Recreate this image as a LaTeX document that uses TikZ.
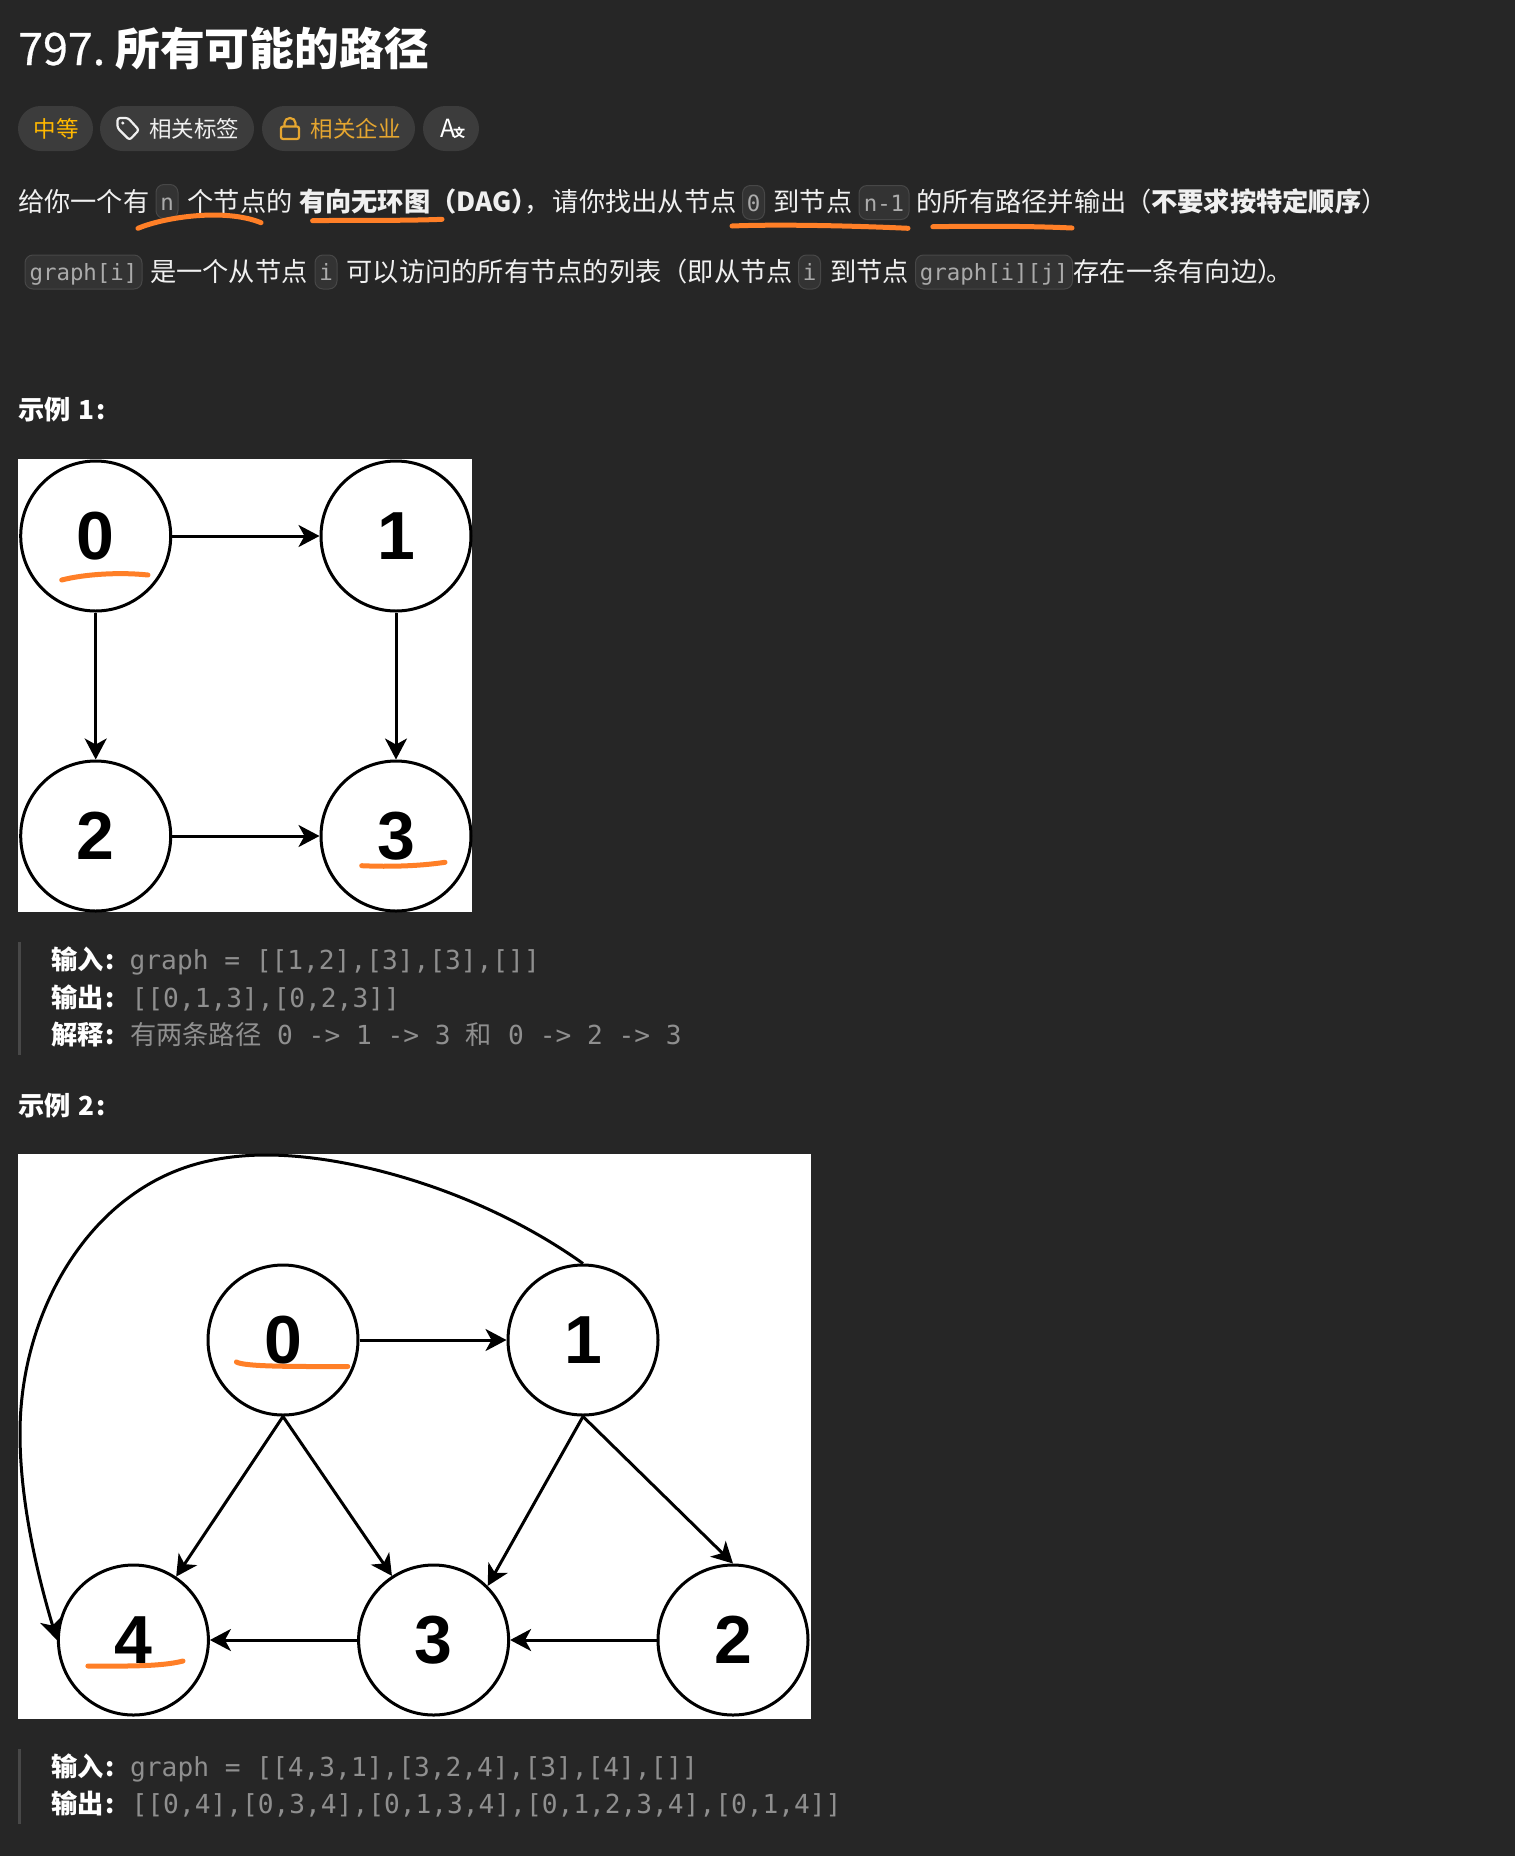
\documentclass[tikz,border=0pt]{standalone}
\usepackage{fontspec}
\setmainfont{Noto Sans CJK SC}
\setmonofont{DejaVu Sans Mono}
\newfontfamily\digitfont{Liberation Sans}
\newfontfamily\titlenum[FakeBold=0.6]{Noto Sans CJK SC}
\usetikzlibrary{positioning, arrows.meta}

\definecolor{pagebg}{HTML}{262626}
\definecolor{pillbg}{HTML}{3C3C3C}
\definecolor{chipbg}{HTML}{333333}
\definecolor{chipline}{HTML}{474747}
\definecolor{chiptext}{HTML}{ABABAB}
\definecolor{bodytext}{HTML}{F0F0F0}
\definecolor{quotetext}{HTML}{8F8F8F}
\definecolor{quotebar}{HTML}{484848}
\definecolor{gold}{HTML}{E5A630}
\definecolor{amber}{HTML}{FFB800}
\definecolor{marker}{HTML}{FF7F27}

\newcommand{\px}[1]{\fontsize{#1}{#1}\selectfont}

\begin{document}
\begin{tikzpicture}[
    x=1pt, y=-1pt,
    >={Stealth[length=21pt,width=22pt,inset=6pt]},
    txt/.style={anchor=base west, inner sep=0pt, text=bodytext, font=\px{26.25}},
    head/.style={txt, text=white, font=\px{26.25}\bfseries},
    chip/.style={rectangle, rounded corners=8pt, draw=chipline, line width=1pt, fill=chipbg,
        text=chiptext, font=\ttfamily\px{22.4}, inner sep=0pt, minimum height=34pt,
        text height=20pt, text depth=3pt},
    pill/.style={rectangle, rounded corners=22.5pt, fill=pillbg, inner sep=0pt, minimum height=45pt},
    pilltxt/.style={anchor=base west, inner sep=0pt, font=\px{22.5}},
    quote/.style={txt, text=quotetext},
    quotecode/.style={quote, font=\ttfamily\px{26.2}},
    vert/.style={circle, draw=black, line width=3pt, fill=white, minimum size=150pt, inner sep=0pt,
        text=black, font=\digitfont\bfseries\px{68}},
    edge/.style={draw=black, line width=3pt, ->},
    scribble/.style={draw=marker, line width=5pt, line cap=round}
]

    % --- Page ---
    \fill[pagebg] (0,0) rectangle (1515,1856);
    \useasboundingbox (0,0) rectangle (1515,1856);

    % --- Title and tags ---
    \node[txt, text=white, font=\titlenum\px{44.8}] (ttlNum) at (18,65) {797.};
    \node[txt, text=white, font=\px{44.8}\bfseries] (ttlName) at (115,65) {所有可能的路径};

    \node[pill, minimum width=75pt]  (pillLevel) at (55.5,128.5) {};
    \node[pill, minimum width=154pt] (pillTags)  at (177,128.5) {};
    \node[pill, minimum width=153pt] (pillFirms) at (338.5,128.5) {};
    \node[pill, minimum width=56pt]  (pillLang)  at (451,128.5) {};

    \node[pilltxt, text=amber] (lblLevel) at (33.5,137) {中等};
    \node[pilltxt, text=bodytext] (lblTags) at (149,137) {相关标签};
    \node[pilltxt, text=gold] (lblFirms) at (310.7,137) {相关企业};
    \node[anchor=base west, inner sep=0pt, text=white, font=\px{25}] (lblLangA) at (440,137) {A};
    \node[anchor=base west, inner sep=0pt, text=white, font=\px{12}\bfseries] (lblLangB) at (453,137) {文};

    % tag icon
    \draw[bodytext, line width=2.2pt, rounded corners=2.5pt, line join=round]
        (117.5,118) -- (128,118) -- (139,130) -- (129.5,140) -- (117.5,128) -- cycle;
    \fill[bodytext] (122.8,123) circle (1.7);
    % lock icon
    \draw[gold, line width=2.2pt, rounded corners=2pt] (281,126.5) rectangle (299,139);
    \draw[gold, line width=2.2pt] (284.5,126.5) -- (284.5,123) arc (180:360:5.5 and 5) -- (295.5,126.5);

    % --- Paragraph 1 ---
    \node[txt] (p1a) at (18,211.5) {给你一个有};
    \node[chip, minimum width=22pt] (cN) at (167,201.5) {n};
    \node[txt] (p1b) at (187.5,211.5) {个节点的};
    \node[txt, font=\px{26.25}\bfseries] (p1c) at (299,211.5) {有向无环图};
    \node[txt, font=\px{26.25}\bfseries] (p1d) at (430,211.5) {（DAG）};
    \node[txt] (p1dc) at (524,211.5) {，};
    \node[txt] (p1dd) at (552.6,211.5) {请你找出从节点};
    \node[chip, minimum width=22pt] (cZero) at (753.5,202.5) {0};
    \node[txt] (p1e) at (773.5,211.5) {到节点};
    \node[chip, minimum width=50pt] (cLast) at (884,202.5) {n-1};
    \node[txt] (p1f) at (916.5,211.5) {的所有路径并输出};
    \node[txt] (p1g) at (1125,211.5) {（{\bfseries 不要求按特定顺序}）};

    % --- Paragraph 2 ---
    \node[chip, minimum width=117pt] (cGraph) at (83.5,272) {graph[i]};
    \node[txt] (p2a) at (150,281) {是一个从节点};
    \node[chip, minimum width=22pt] (cI) at (326,272) {i};
    \node[txt] (p2b) at (346.5,281) {可以访问的所有节点的列表（即从节点};
    \node[chip, minimum width=22pt] (cIb) at (809.5,272) {i};
    \node[txt] (p2c) at (830,281) {到节点};
    \node[chip, minimum width=157pt] (cGraphJ) at (994,272) {graph[i][j]};
    \node[txt] (p2d) at (1073.5,281) {存在一条有向边）};
    \node[txt] (p2e) at (1266,281) {。};

    % --- Example 1 ---
    \node[head] (ex1) at (18,419) {示例\kern2pt{} 1\kern2pt:};
    \fill[white] (18,459) rectangle (472,912);

    \node[vert] (a0) at (95.7,536) {0};
    \node[vert] (a1) at (396,536) {1};
    \node[vert] (a2) at (95.7,836) {2};
    \node[vert] (a3) at (396,836) {3};

    \draw[edge] (a0) -- (a1);
    \draw[edge] (a0) -- (a2);
    \draw[edge] (a1) -- (a3);
    \draw[edge] (a2) -- (a3);

    \draw[scribble] (61.7,580) .. controls (85,574) and (120,572) .. (148,575);
    \draw[scribble] (361.7,865.7) .. controls (390,867) and (420,866) .. (445,862.3);

    \fill[quotebar] (18.4,942) rectangle (21,1055);
    \node[head] (in1) at (51,969.5) {输入\kern2pt:};
    \node[quotecode] (in1v) at (129.5,969.5) {graph = [[1,2],[3],[3],[]]};
    \node[head] (out1) at (51,1007.5) {输出\kern2pt:};
    \node[quotecode] (out1v) at (131.5,1007.5) {[[0,1,3],[0,2,3]]};
    \node[head] (why1) at (51,1044.5) {解释\kern2pt:};
    \node[quote] (why1v) at (130,1044.5) {有两条路径};
    \node[quotecode] (why1p) at (277,1044.5) {0 -> 1 -> 3};
    \node[quote] (why1h) at (465.5,1044.5) {和};
    \node[quotecode] (why1q) at (508,1044.5) {0 -> 2 -> 3};

    % --- Example 2 ---
    \node[head] (ex2) at (18,1115) {示例\kern2pt{} 2\kern2pt:};
    \fill[white] (18,1154) rectangle (811,1718.6);

    \node[vert] (b0) at (283,1340) {0};
    \node[vert] (b1) at (583,1340) {1};
    \node[vert] (b4) at (133.4,1640) {4};
    \node[vert] (b3) at (433.6,1640) {3};
    \node[vert] (b2) at (733,1640) {2};

    \draw[edge] (b0) -- (b1);
    \draw[edge] (b0.south) -- (b4.56);
    \draw[edge] (b0.south) -- (b3.123);
    \draw[edge] (b1.south) -- (b3.45);
    \draw[edge] (b1.south) -- (b2.north);
    \draw[edge] (b3) -- (b4);
    \draw[edge] (b2) -- (b3);
    \draw[edge] (b1.north) .. controls (480,1190) and (350,1155) .. (266.7,1155)
        .. controls (200,1155) and (155,1175) .. (118,1206)
        .. controls (60,1255) and (20,1340) .. (20,1433.5)
        .. controls (20,1510) and (42,1590) .. (b4.west);

    \draw[scribble] (236.4,1362) .. controls (245,1367) and (300,1366.5) .. (347.8,1366.5);
    \draw[scribble] (87.9,1666) .. controls (120,1666) and (160,1667) .. (183,1661);

    \fill[quotebar] (18.4,1749) rectangle (21,1824);
    \node[head] (in2) at (51,1776.5) {输入\kern2pt:};
    \node[quotecode] (in2v) at (130,1776.5) {graph = [[4,3,1],[3,2,4],[3],[4],[]]};
    \node[head] (out2) at (51,1813.5) {输出\kern2pt:};
    \node[quotecode] (out2v) at (131.5,1813.5) {[[0,4],[0,3,4],[0,1,3,4],[0,1,2,3,4],[0,1,4]]};

    % --- Markers on the paragraphs ---
    \draw[scribble] (138,228.3) .. controls (165,217) and (225,208) .. (261,222.7);
    \draw[scribble] (312.6,220.7) .. controls (350,220) and (400,221) .. (442,219.3);
    \draw[scribble] (732,226) .. controls (780,224) and (860,226) .. (908,228.3);
    \draw[scribble] (932.8,226.7) .. controls (980,226) and (1030,226) .. (1072,228);

\end{tikzpicture}
\end{document}
